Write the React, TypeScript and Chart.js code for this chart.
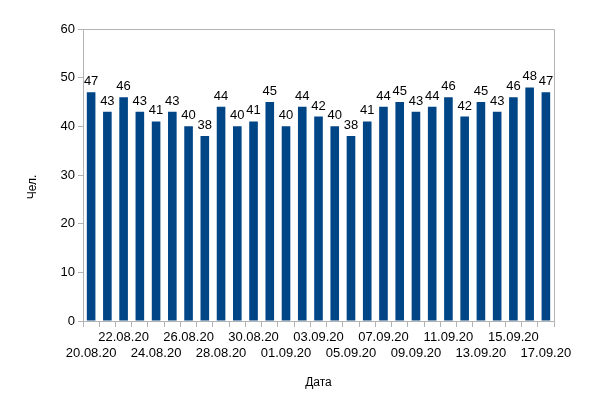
import React, { useEffect, useRef } from "react";
import { Chart, registerables } from "chart.js";

Chart.register(...registerables);

const categories: string[] = [
  "20.08.20", "21.08.20", "22.08.20", "23.08.20", "24.08.20", "25.08.20", "26.08.20", "27.08.20",
  "28.08.20", "29.08.20", "30.08.20", "31.08.20", "01.09.20", "02.09.20", "03.09.20", "04.09.20",
  "05.09.20", "06.09.20", "07.09.20", "08.09.20", "09.09.20", "10.09.20", "11.09.20", "12.09.20",
  "13.09.20", "14.09.20", "15.09.20", "16.09.20", "17.09.20",
];
const values: number[] = [
  47, 43, 46, 43, 41, 43, 40, 38, 44, 40, 41, 45, 40, 44, 42, 40, 38, 41, 44, 45, 43, 44, 46, 42,
  45, 43, 46, 48, 47,
];
const yTicks: number[] = [0, 10, 20, 30, 40, 50, 60];
const yTitle = "Чел.";
const xTitle = "Дата";

const FONT = "'Liberation Sans', Arial, sans-serif";
const BAR = "#004586";
const GRAY = "#b3b3b3";

const frame = {
  id: "frame",
  afterDraw(chart: any) {
    const { ctx, chartArea: a } = chart;
    ctx.save();
    ctx.strokeStyle = GRAY;
    ctx.lineWidth = 1;
    ctx.beginPath();
    ctx.moveTo(a.left, a.top + 0.5);
    ctx.lineTo(a.right + 0.5, a.top + 0.5);
    ctx.lineTo(a.right + 0.5, a.bottom);
    ctx.stroke();
    // y-axis title, placed as in the reference
    ctx.font = `12px ${FONT}`;
    ctx.fillStyle = "#000";
    ctx.textAlign = "center";
    ctx.textBaseline = "middle";
    ctx.translate(33, (a.top + a.bottom) / 2 + 12);
    ctx.rotate(-Math.PI / 2);
    ctx.fillText(yTitle, 0, 0);
    ctx.restore();
  },
};

const labels = {
  id: "valueLabels",
  afterDatasetsDraw(chart: any) {
    const { ctx } = chart;
    const meta = chart.getDatasetMeta(0);
    ctx.save();
    ctx.font = `13px ${FONT}`;
    ctx.fillStyle = "#000";
    ctx.textAlign = "center";
    ctx.textBaseline = "alphabetic";
    meta.data.forEach((bar: any, i: number) => {
      ctx.fillText(String(values[i]), bar.x, bar.y - 7);
    });
    ctx.restore();
  },
};

export default function App() {
  const ref = useRef<HTMLCanvasElement>(null);
  useEffect(() => {
    document.body.style.margin = "0";
    const chart = new Chart(ref.current!, {
      type: "bar",
      data: {
        labels: categories,
        datasets: [
          {
            data: values,
            backgroundColor: BAR,
            borderWidth: 0,
            barPercentage: 0.53,
            categoryPercentage: 1,
          },
        ],
      },
      options: {
        animation: false,
        responsive: false,
        maintainAspectRatio: false,
        layout: { padding: { top: 29, right: 46, left: 0, bottom: 0 } },
        plugins: { legend: { display: false }, tooltip: { enabled: false } },
        scales: {
          x: {
            offset: true,
            grid: {
              offset: true,
              drawOnChartArea: false,
              drawTicks: true,
              tickLength: 6,
              color: GRAY,
            },
            border: { color: GRAY },
            ticks: {
              autoSkip: false,
              maxRotation: 0,
              minRotation: 0,
              padding: 3,
              color: "#000",
              font: { family: FONT, size: 13, lineHeight: 1.2 },
              callback: (_v: any, i: number) => {
                const lab = categories[i];
                if (i % 4 === 0) return ["", lab];
                if (i % 4 === 2) return [lab, ""];
                return "";
              },
            },
            title: {
              display: true,
              text: xTitle,
              color: "#000",
              font: { family: FONT, size: 12 },
              padding: { top: 0, bottom: 10 },
            },
            afterFit: (s: any) => {
              s.height = 79;
            },
          },
          y: {
            min: 0,
            max: 60,
            afterBuildTicks: (s: any) => {
              s.ticks = yTicks.map((v) => ({ value: v }));
            },
            grid: {
              drawOnChartArea: false,
              drawTicks: true,
              tickLength: 5,
              color: GRAY,
            },
            border: { color: GRAY },
            ticks: {
              padding: 3,
              color: "#000",
              font: { family: FONT, size: 13 },
            },
            title: { display: false },
            afterFit: (s: any) => {
              s.width = 83;
            },
          },
        },
      },
      plugins: [frame, labels],
    });
    return () => chart.destroy();
  }, []);
  return (
    <div style={{ width: 600, height: 400, background: "#fff" }}>
      <canvas ref={ref} width={600} height={400} />
    </div>
  );
}
